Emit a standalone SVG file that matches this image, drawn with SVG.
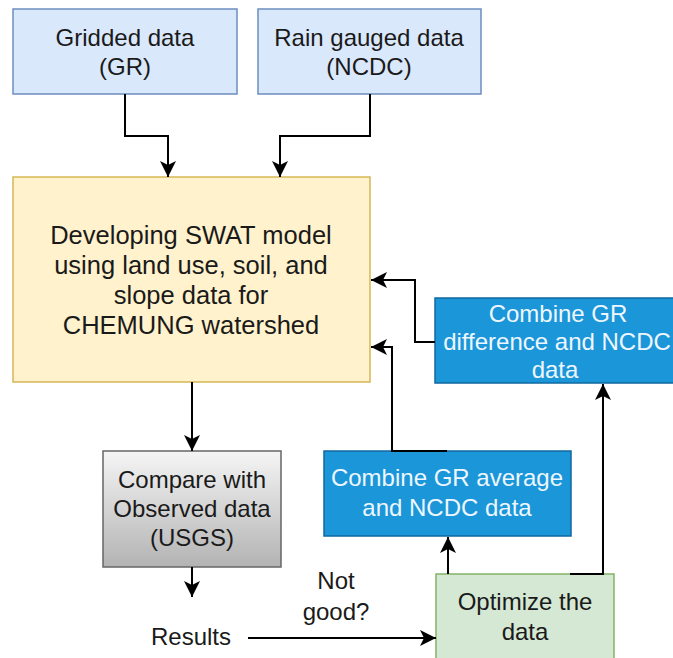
<svg xmlns="http://www.w3.org/2000/svg" width="673" height="658" viewBox="0 0 673 658">
<style>
text{font-family:"Liberation Sans",Arial,sans-serif;font-size:24px;fill:#1a1a1a;text-anchor:middle}
.lt{fill:#eef6ff}
.big{font-size:25.5px}
.edge{fill:none;stroke:#000;stroke-width:2}
</style>
<defs>
<marker id="arr" markerUnits="userSpaceOnUse" markerWidth="18" markerHeight="18" refX="16" refY="8" orient="auto" viewBox="0 0 18 16">
<path d="M0,0 L16,8 L0,16 L4,8 Z" fill="#000"/>
</marker>
<linearGradient id="gray" x1="0" y1="0" x2="0" y2="1">
<stop offset="0" stop-color="#f5f5f5"/>
<stop offset="1" stop-color="#b3b3b3"/>
</linearGradient>
</defs>
<rect width="673" height="658" fill="#fff"/>
<g id="gridded">
<rect x="13" y="9" width="224" height="85" fill="#dae8fc" stroke="#6c8ebf" stroke-width="1.5"/>
<text x="125" y="46">Gridded data</text>
<text x="125" y="75">(GR)</text>
</g>
<g id="rain">
<rect x="258" y="9" width="223" height="85" fill="#dae8fc" stroke="#6c8ebf" stroke-width="1.5"/>
<text x="369" y="46">Rain gauged data</text>
<text x="369" y="75">(NCDC)</text>
</g>
<g id="swat">
<rect x="13" y="177" width="357" height="205" fill="#fff2cc" stroke="#d6b656" stroke-width="1.5"/>
<text class="big" x="191" y="244">Developing SWAT model</text>
<text class="big" x="191" y="274">using land use, soil, and</text>
<text class="big" x="191" y="304">slope data for</text>
<text class="big" x="191" y="334">CHEMUNG watershed</text>
</g>
<g id="diff">
<rect x="435" y="298" width="250" height="85" fill="#1b96d8" stroke="#10689e" stroke-width="1.5"/>
<text class="lt" x="558" y="322">Combine GR</text>
<text class="lt" x="557" y="350">difference and NCDC</text>
<text class="lt" x="555" y="378">data</text>
</g>
<g id="average">
<rect x="324" y="451" width="247" height="85" fill="#1b96d8" stroke="#10689e" stroke-width="1.5"/>
<text class="lt" x="447" y="486">Combine GR average</text>
<text class="lt" x="447" y="516">and NCDC data</text>
</g>
<g id="compare">
<rect x="103" y="451" width="178" height="116" fill="url(#gray)" stroke="#666" stroke-width="1.5"/>
<text x="192" y="488">Compare with</text>
<text x="192" y="517">Observed data</text>
<text x="192" y="546">(USGS)</text>
</g>
<g id="optimize">
<rect x="436" y="574" width="178" height="100" fill="#d5e8d4" stroke="#82b366" stroke-width="1.5"/>
<text x="525" y="610">Optimize the</text>
<text x="525" y="640">data</text>
</g>
<g id="results">
<text x="191" y="645">Results</text>
</g>
<g id="labels">
<text x="336" y="589">Not</text>
<text x="336" y="620">good?</text>
</g>
<g id="connectors">
<path class="edge" d="M125,94 V136 H168 V177" marker-end="url(#arr)"/>
<path class="edge" d="M370,94 V136 H280 V177" marker-end="url(#arr)"/>
<path class="edge" d="M435,342 H415 V280 H371" marker-end="url(#arr)"/>
<path class="edge" d="M447,451 H392 V347 H371" marker-end="url(#arr)"/>
<path class="edge" d="M448,574 V537" marker-end="url(#arr)"/>
<path class="edge" d="M570,574 H603 V384" marker-end="url(#arr)"/>
<path class="edge" d="M192,382 V451" marker-end="url(#arr)"/>
<path class="edge" d="M192,567 V597" marker-end="url(#arr)"/>
<path class="edge" d="M248,638 H436" marker-end="url(#arr)"/>
</g>
</svg>
